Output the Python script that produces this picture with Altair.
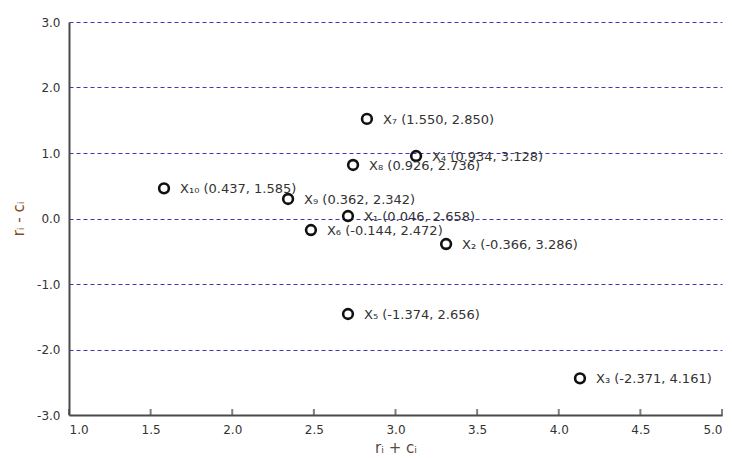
import altair as alt
import pandas as pd

# Plotted positions
names = ["X₁", "X₂", "X₃", "X₄", "X₅", "X₆", "X₇", "X₈", "X₉", "X₁₀"]
sum_rc = [2.709, 3.31, 4.13, 3.126, 2.709, 2.482, 2.825, 2.74, 2.342, 1.582]
diff_rc = [0.038, -0.39, -2.44, 0.954, -1.458, -0.176, 1.52, 0.817, 0.298, 0.461]
# Values printed in the labels
label_diff = ["0.046", "-0.366", "-2.371", "0.934", "-1.374", "-0.144", "1.550", "0.926", "0.362", "0.437"]
label_sum = ["2.658", "3.286", "4.161", "3.128", "2.656", "2.472", "2.850", "2.736", "2.342", "1.585"]

x_ticks = [1.0, 1.5, 2.0, 2.5, 3.0, 3.5, 4.0, 4.5, 5.0]
y_ticks = [-3.0, -2.0, -1.0, 0.0, 1.0, 2.0, 3.0]

df = pd.DataFrame({
    "name": names,
    "s": sum_rc,
    "d": diff_rc,
    "label": [f"{n} ({a}, {b})" for n, a, b in zip(names, label_diff, label_sum)],
})
ticks_df = pd.DataFrame({"t": x_ticks})

W, H = 653, 393
FONT = "DejaVu Sans"
LABEL_EXPR = "replace(format(datum.value, '.1f'), '\u2212', '-')"

xscale = alt.Scale(domain=[1, 5], nice=False, zero=False)
yscale = alt.Scale(domain=[-3, 3], nice=False, zero=False)

points = alt.Chart(df).mark_point(
    shape="circle", filled=False, size=95, strokeWidth=2.6, color="#111111", opacity=1
).encode(
    x=alt.X("s:Q", scale=xscale, title="rᵢ + cᵢ",
            axis=alt.Axis(values=x_ticks, labelExpr=LABEL_EXPR, grid=False, ticks=False,
                          domainColor="#4a4a4a", domainWidth=2, labelPadding=9,
                          labelFont=FONT, labelFontSize=12, labelColor="#333333",
                          titleFont=FONT, titleFontSize=15, titleFontWeight="normal",
                          titleColor="#5a4a40", titlePadding=5)),
    y=alt.Y("d:Q", scale=yscale, title="rᵢ - cᵢ",
            axis=alt.Axis(values=y_ticks, labelExpr=LABEL_EXPR, grid=True, ticks=False,
                          gridColor="#3a3ab8", gridDash=[4, 3], gridWidth=1,
                          domainColor="#4a4a4a", domainWidth=2, labelPadding=9,
                          labelFont=FONT, labelFontSize=12, labelColor="#333333",
                          titleFont=FONT, titleFontSize=15, titleFontWeight="normal",
                          titleColor="#8a4a1e", titlePadding=10)),
)

labels = alt.Chart(df).mark_text(
    align="left", baseline="middle", dx=16, dy=1, font=FONT, fontSize=13, color="#333333"
).encode(
    x=alt.X("s:Q", scale=xscale),
    y=alt.Y("d:Q", scale=yscale),
    text="label:N",
)

xticks = alt.Chart(ticks_df).mark_tick(
    orient="vertical", size=6, thickness=2, color="#4a4a4a"
).encode(
    x=alt.X("t:Q", scale=xscale),
    y=alt.value(H - 3),
)

chart = alt.layer(points, xticks, labels).properties(
    width=W, height=H,
    autosize=alt.AutoSizeParams(type="none"),
    padding={"left": 61, "top": 14, "right": 2, "bottom": 40},
    background="white",
).configure_view(stroke=None)

chart.save("out.html", embed_options={"renderer": "svg", "actions": False})
